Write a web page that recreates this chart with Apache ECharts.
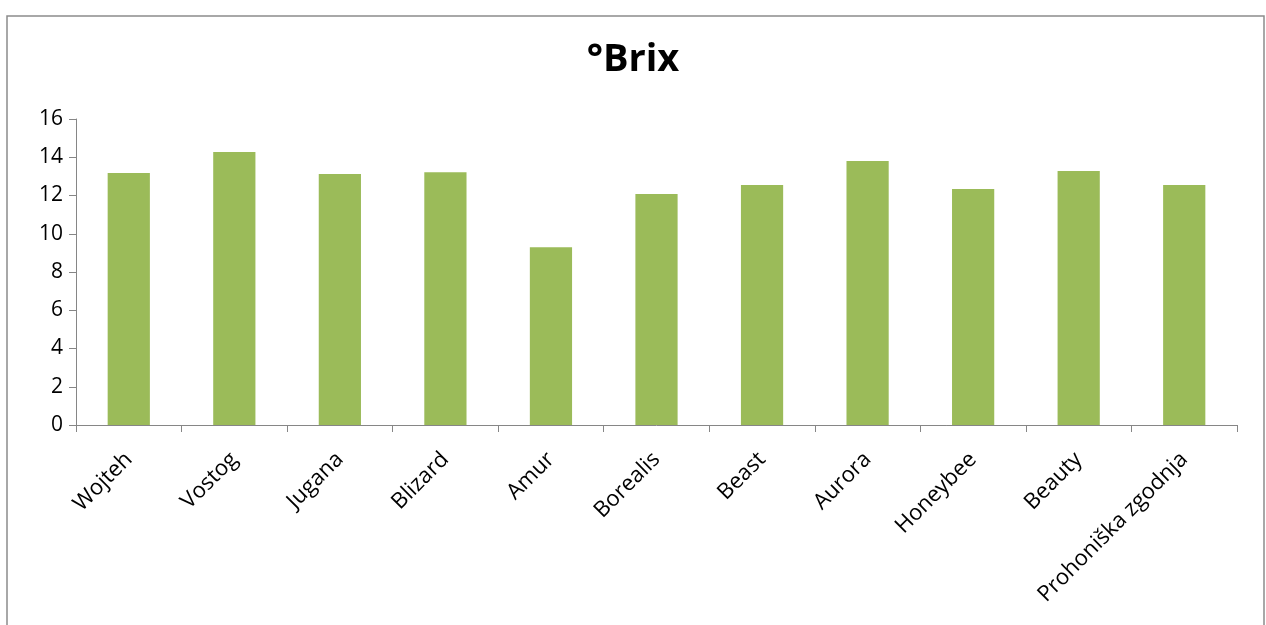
<!DOCTYPE html>
<html><head><meta charset="utf-8">
<script src="https://cdn.jsdelivr.net/npm/echarts@6/dist/echarts.min.js"></script>
<style>html,body{margin:0;padding:0;background:#fff}#c{width:1266px;height:625px}</style>
</head><body><div id="c"></div>
<script>
const categories = ['Wojteh','Vostog','Jugana','Blizard','Amur','Borealis','Beast','Aurora','Honeybee','Beauty','Prohoniška zgodnja'];
const brixValues = [13.18, 14.28, 13.12, 13.22, 9.3, 12.08, 12.55, 13.8, 12.34, 13.28, 12.55];
const yTicks = [0, 2, 4, 6, 8, 10, 12, 14, 16];
const chart = echarts.init(document.getElementById('c'));
const font = '"Open Sans", "Noto Sans", sans-serif';
chart.setOption({
  animation: false,
  title: { text: '°Brix', left: 'center', top: 36, textStyle: { fontFamily: font, fontSize: 38, fontWeight: 'bold', color: '#000' } },
  graphic: [{ type: 'rect', shape: { x: 7, y: 16, width: 1257, height: 640 }, style: { fill: 'none', stroke: '#8c8c8c', lineWidth: 1.5 }, silent: true }],
  grid: { left: 76, right: 29, top: 119, bottom: 200, containLabel: false },
  xAxis: {
    type: 'category', data: categories,
    axisLine: { lineStyle: { color: '#868686', width: 1 } },
    axisTick: { show: true, length: 7, alignWithLabel: false, lineStyle: { color: '#868686' } },
    axisLabel: { rotate: 45, interval: 0, fontFamily: font, fontSize: 22, color: '#000', margin: 31 }
  },
  yAxis: {
    type: 'value', min: yTicks[0], max: yTicks[yTicks.length - 1], interval: 2,
    axisLine: { show: true, lineStyle: { color: '#868686', width: 1 } },
    axisTick: { show: true, length: 7, lineStyle: { color: '#868686' } },
    splitLine: { show: false },
    axisLabel: { fontFamily: font, fontSize: 21, color: '#000', margin: 13 }
  },
  series: [{ type: 'bar', data: brixValues, barCategoryGap: '60%', itemStyle: { color: '#9bbb59' } }]
});
</script></body></html>
